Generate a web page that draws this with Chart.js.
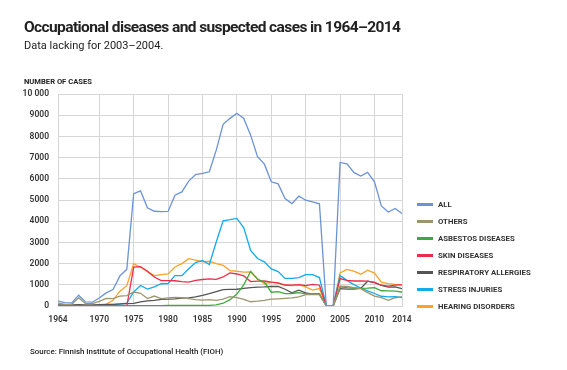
<!DOCTYPE html>
<html>
<head>
<meta charset="utf-8">
<script src="https://cdn.jsdelivr.net/npm/chart.js@4/dist/chart.umd.min.js"></script>
<style>
  body { margin: 0; background: #fff; font-family: Roboto, sans-serif; color: #222; }
  #wrap { position: relative; width: 567px; height: 370px; overflow: hidden; }
  canvas { position: absolute; left: 0; top: 0; }
  .t { position: absolute; white-space: nowrap; }
  #title { left: 24px; top: 18px; font-size: 15.5px; font-weight: 700; letter-spacing: -0.6px; }
  #sub { left: 24px; top: 39px; font-size: 11px; }
  #unit { left: 24px; top: 77px; font-size: 7.6px; font-weight: 700; }
  #src { left: 30px; top: 347px; font-size: 7.9px; font-weight: 500; }
  #legend { position: absolute; left: 417px; top: 196px; }
  .li { height: 17px; display: flex; align-items: center; font-size: 7.8px; font-weight: 700; color: #333; }
  .li span { display: inline-block; width: 16px; height: 2.5px; margin-right: 5px; }
</style>
</head>
<body>
<div id="wrap">
  <canvas id="chart" width="567" height="370"></canvas>
  <div class="t" id="title">Occupational diseases and suspected cases in 1964–2014</div>
  <div class="t" id="sub">Data lacking for 2003–2004.</div>
  <div class="t" id="unit">NUMBER OF CASES</div>
  <div class="t" id="src">Source: Finnish Institute of Occupational Health (FIOH)</div>
  <div id="legend"></div>
</div>
<script>
const years = [1964, 1965, 1966, 1967, 1968, 1969, 1970, 1971, 1972, 1973, 1974, 1975, 1976, 1977, 1978, 1979,
  1980, 1981, 1982, 1983, 1984, 1985, 1986, 1987, 1988, 1989, 1990, 1991, 1992, 1993, 1994, 1995, 1996, 1997,
  1998, 1999, 2000, 2001, 2002, 2003, 2004, 2005, 2006, 2007, 2008, 2009, 2010, 2011, 2012, 2013, 2014];
const xTicks = [1964, 1970, 1975, 1980, 1985, 1990, 1995, 2000, 2005, 2010, 2014];

const all = [230, 160, 150, 510, 190, 180, 380, 620, 780, 1420, 1730, 5300, 5430, 4630, 4470, 4450,
  4460, 5230, 5380, 5890, 6200, 6260, 6330, 7350, 8570, 8850, 9090, 8850, 8060, 7040, 6690, 5860, 5760, 5070,
  4830, 5180, 4990, 4910, 4820, 0, 0, 6770, 6710, 6300, 6130, 6300, 5860, 4720, 4430, 4600, 4360];
const others = [140, 80, 80, 390, 110, 110, 220, 360, 350, 470, 490, 660, 600, 350, 470, 350,
  380, 410, 390, 350, 300, 280, 300, 270, 320, 440, 400, 310, 200, 230, 270, 320, 340, 360,
  380, 430, 540, 550, 540, 0, 0, 940, 930, 870, 820, 630, 470, 390, 270, 390, 430];
const asbestos = [10, 10, 10, 10, 10, 10, 20, 20, 20, 20, 20, 20, 20, 20, 20, 20,
  30, 30, 30, 30, 30, 30, 30, 50, 130, 300, 560, 1000, 1630, 1260, 1130, 650, 680, 580,
  590, 630, 570, 580, 580, 0, 0, 900, 870, 850, 830, 840, 860, 720, 710, 700, 660];
const skin = [0, 0, 0, 0, 0, 0, 0, 0, 0, 0, 0, 1830, 1860, 1640, 1370, 1200,
  1200, 1190, 1150, 1130, 1210, 1250, 1280, 1260, 1370, 1560, 1510, 1420, 1150, 1170, 1180, 1130, 1090, 990,
  980, 1010, 960, 1020, 980, 0, 0, 1290, 1210, 1180, 1180, 1170, 1120, 980, 940, 980, 1000];
const respiratory = [50, 50, 50, 60, 50, 50, 60, 70, 80, 100, 110, 120, 190, 240, 270, 310,
  320, 340, 370, 380, 430, 500, 580, 680, 770, 780, 790, 830, 870, 890, 900, 920, 930, 790,
  620, 750, 620, 560, 550, 0, 0, 820, 800, 800, 830, 1170, 1100, 970, 890, 900, 820];
const stress = [0, 0, 0, 0, 0, 0, 20, 40, 60, 90, 130, 660, 970, 800, 900, 1050,
  1060, 1430, 1430, 1760, 2050, 2150, 1960, 3020, 4020, 4070, 4130, 3690, 2620, 2240, 2080, 1750, 1620, 1300,
  1300, 1340, 1480, 1480, 1340, 0, 0, 1430, 1210, 1010, 850, 710, 590, 460, 430, 440, 400];
const hearing = [0, 0, 0, 0, 0, 0, 0, 80, 270, 700, 960, 2000, 1830, 1620, 1430, 1480,
  1510, 1840, 2000, 2230, 2160, 2080, 2110, 2000, 1920, 1670, 1640, 1600, 1610, 1290, 1050, 1130, 1070, 980,
  960, 1010, 900, 750, 820, 0, 0, 1560, 1730, 1640, 1500, 1690, 1550, 1130, 1060, 1020, 1010];

const series = [
  { label: 'ALL', data: all, color: '#6b93d6' },
  { label: 'OTHERS', data: others, color: '#9c9670' },
  { label: 'ASBESTOS DISEASES', data: asbestos, color: '#3cab3c' },
  { label: 'SKIN DISEASES', data: skin, color: '#ec2d4a' },
  { label: 'RESPIRATORY ALLERGIES', data: respiratory, color: '#555555' },
  { label: 'STRESS INJURIES', data: stress, color: '#14aaeb' },
  { label: 'HEARING DISORDERS', data: hearing, color: '#fca12a' }
];

const legend = document.getElementById('legend');
series.forEach(s => {
  const d = document.createElement('div');
  d.className = 'li';
  d.innerHTML = '<span style="background:' + s.color + '"></span>' + s.label;
  legend.appendChild(d);
});

new Chart(document.getElementById('chart'), {
  type: 'line',
  data: {
    datasets: series.map(s => ({
      label: s.label,
      data: s.data.map((v, i) => ({ x: years[i], y: v })),
      borderColor: s.color,
      backgroundColor: s.color,
      borderWidth: 1.3,
      pointRadius: 0,
      tension: 0
    }))
  },
  options: {
    responsive: false,
    animation: false,
    layout: { padding: { left: 0, right: 165, top: 94, bottom: 0 } },
    plugins: { legend: { display: false }, tooltip: { enabled: false } },
    scales: {
      x: {
        type: 'linear',
        min: 1964,
        max: 2014,
        afterBuildTicks: scale => { scale.ticks = xTicks.map(v => ({ value: v })); },
        afterFit: scale => { scale.height = 64; },
        grid: { color: '#d6d6d6', drawTicks: false },
        border: { color: '#d6d6d6' },
        ticks: {
          padding: 9,
          maxRotation: 0,
          color: '#333',
          font: { family: 'Roboto', size: 8.5, weight: '600' },
          callback: v => String(v)
        }
      },
      y: {
        min: 0,
        max: 10000,
        afterFit: scale => { scale.width = 58; },
        grid: { color: '#d6d6d6', drawTicks: false },
        border: { display: false },
        ticks: {
          stepSize: 1000,
          padding: 9,
          color: '#333',
          font: { family: 'Roboto', size: 8.5, weight: '600' },
          callback: v => v >= 10000 ? '10 000' : String(v)
        }
      }
    }
  }
});
</script>
</body>
</html>
